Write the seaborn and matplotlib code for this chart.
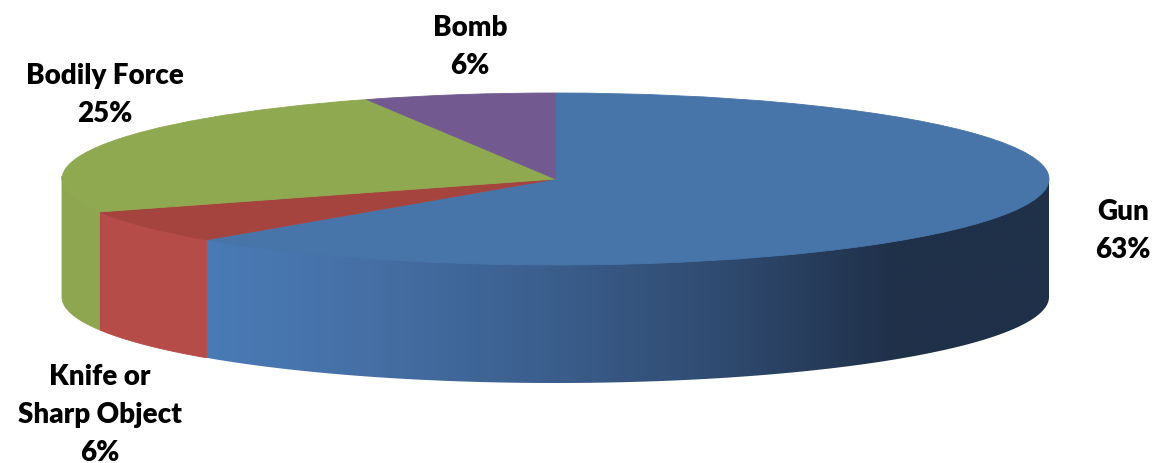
import numpy as np
import seaborn as sns
import matplotlib.pyplot as plt
from matplotlib.colors import LinearSegmentedColormap
from matplotlib.patches import Polygon

categories = ['Gun', 'Knife or\nSharp Object', 'Bodily Force', 'Bomb']
shares = [62.5, 6.25, 25, 6.25]
pct_labels = ['63%', '6%', '25%', '6%']

W, H = 1153, 463
# ellipse of the pie top and thickness of the disc, in pixels
cx, cy, rx, ry, depth = 555.5, 179, 493.5, 86, 118

sns.set_theme(style='white')
plt.rcParams['font.family'] = ['Lato', 'DejaVu Sans']

top_colors = sns.color_palette(['#4775a9', '#a5443f', '#8ea950', '#725a91'])
side_colors = ['#4a7bb6', '#b54c48', '#8ea64f', '#725a91']

fig = plt.figure(figsize=(W / 100, H / 100), dpi=100)
ax = fig.add_axes([0, 0, 1, 1])

wedges, _ = ax.pie(shares, colors=top_colors, startangle=90, counterclock=False,
                   radius=1, wedgeprops={'linewidth': 0.6, 'zorder': 3})
ax.set_aspect('auto')

d = depth / ry
xlim = (-cx / rx, (W - cx) / rx)
ylim = (-(H - cy) / ry, cy / ry)

# side wall: only the front half of the ellipse shows
blues = LinearSegmentedColormap.from_list('wall', [
    (0.0, '#4a7bb6'), (0.2, '#456fa5'), (0.4, '#3b5f8e'),
    (0.62, '#2f4a6f'), (0.82, '#1f3049'), (1.0, '#1f3049')])

for i, (w, col) in enumerate(zip(wedges, side_colors)):
    w.set_edgecolor(w.get_facecolor())
    t1, t2 = w.theta1, w.theta2
    if t1 > 180:
        t1, t2 = t1 - 360, t2 - 360
    t1, t2 = max(t1, -180), min(t2, 0)
    if t2 <= t1:
        continue
    th = np.radians(np.linspace(t1, t2, 200))
    x, y = np.cos(th), np.sin(th)
    # top edge runs a little under the pie so no seam shows
    pts = np.r_[np.c_[x, y + 0.03], np.c_[x[::-1], y[::-1] - d]]
    poly = Polygon(pts, closed=True, facecolor=col, edgecolor='none', zorder=1 + i * 0.1)
    ax.add_patch(poly)
    if i == 0:
        poly.set_facecolor('none')
        grad = np.linspace(0, 1, 512).reshape(1, -1)
        im = ax.imshow(grad, cmap=blues, aspect='auto', zorder=1,
                       extent=(x.min() - 0.01, x.max(), -d - 1, 0.1))
        im.set_clip_path(poly)
    else:
        poly.set_edgecolor(col)
        poly.set_linewidth(0.6)

ax.set_xlim(*xlim)
ax.set_ylim(*ylim)
ax.axis('off')


def px(x, y):
    return (x - cx) / rx, (cy - y) / ry


# label centres in pixels, one per category
label_pos = [(1123, 231), (100, 415), (105, 95), (470, 47)]
for name, pct, (lx, ly) in zip(categories, pct_labels, label_pos):
    ax.text(*px(lx, ly), name + '\n' + pct, ha='center', va='center', fontsize=20,
            fontweight='heavy', color='black', linespacing=1.58, zorder=5)

fig.savefig('out.png', dpi=100, facecolor='white')
